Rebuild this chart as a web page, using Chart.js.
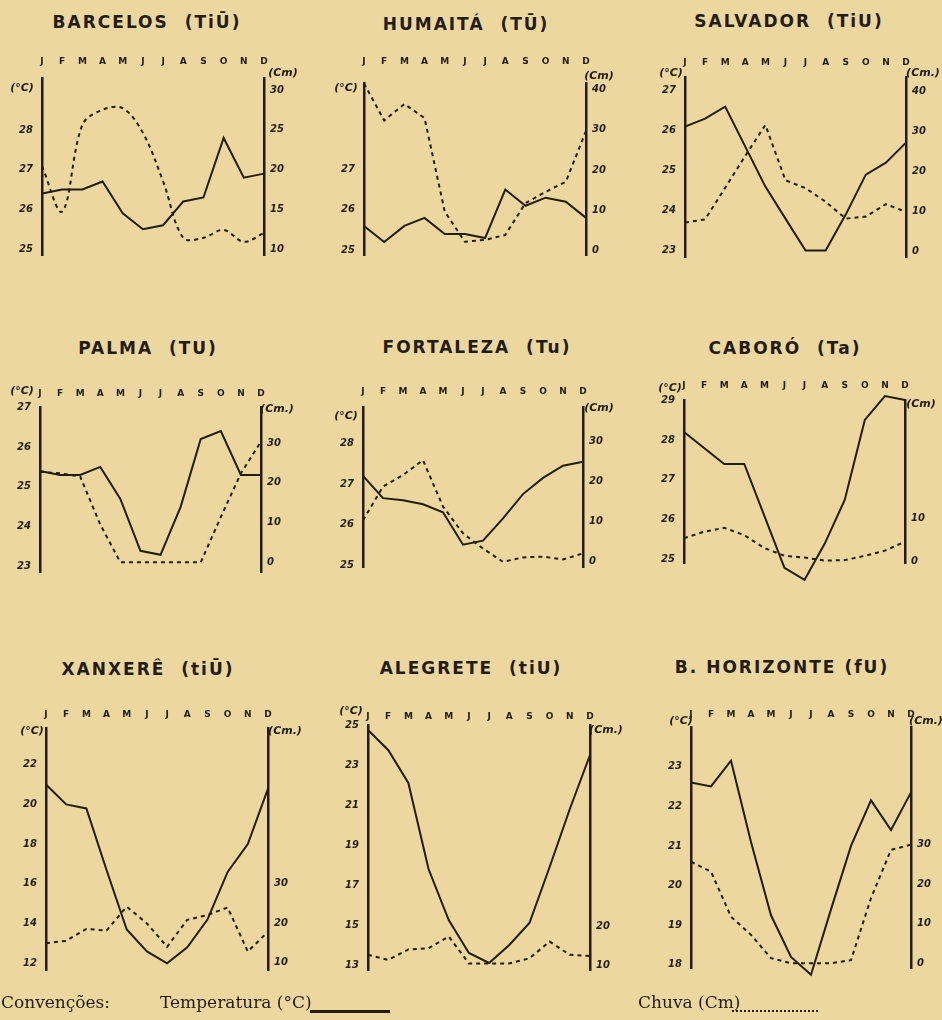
<!DOCTYPE html>
<html>
<head>
<meta charset="utf-8">
<script src="https://cdn.jsdelivr.net/npm/chart.js@4/dist/chart.umd.min.js"></script>
<style>
  body { margin: 0; width: 942px; height: 1020px; background: #ecd79e; overflow: hidden; position: relative;
         font-family: "DejaVu Sans", sans-serif; color: #231c12; }
  canvas { position: absolute; }
  .title { position: absolute; transform: translate(-50%, -50%); font-weight: bold; font-size: 17px;
           letter-spacing: 2px; white-space: pre; }
  .unit { position: absolute; transform: translate(-50%, -50%); font-style: italic; font-weight: bold;
          font-size: 11px; white-space: nowrap; }
  .legend { position: absolute; top: 992px; font-family: "DejaVu Serif", serif; font-size: 17px; white-space: nowrap; }
</style>
</head>
<body>
<script>
// months along the top of every panel
const months = ['J', 'F', 'M', 'A', 'M', 'J', 'J', 'A', 'S', 'O', 'N', 'D'];

// temperature (°C) and rain (cm) per station
const tempBarcelos = [26.4, 26.5, 26.5, 26.7, 25.9, 25.5, 25.6, 26.2, 26.3, 27.8, 26.8, 26.9];
const rainBarcelos = [20.4, 14.7, 25.6, 27.5, 27.7, 24.6, 18.5, 11.4, 11.4, 12.4, 10.9, 12.0];
const tempHumaita = [25.6, 25.2, 25.6, 25.8, 25.4, 25.4, 25.3, 26.5, 26.1, 26.3, 26.2, 25.8];
const rainHumaita = [41.5, 32.3, 36.4, 32.9, 9.7, 2.2, 2.7, 3.9, 11.8, 14.6, 17.1, 29.7];
const tempSalvador = [26.1, 26.3, 26.6, 25.6, 24.6, 23.8, 23.0, 23.0, 23.9, 24.9, 25.2, 25.7];
const rainSalvador = [7.3, 8.1, 16.0, 24.0, 31.7, 17.9, 15.9, 12.5, 8.3, 8.8, 11.9, 10.0];
const tempPalma = [25.4, 25.3, 25.3, 25.5, 24.7, 23.4, 23.3, 24.5, 26.2, 26.4, 25.3, 25.3];
const rainPalma = [22.8, 22.4, 21.6, 9.5, 0, 0, 0, 0, 0, 11.4, 22.4, 30.4];
const tempFortaleza = [27.2, 26.65, 26.6, 26.5, 26.3, 25.5, 25.6, 26.15, 26.75, 27.15, 27.45, 27.55];
const rainFortaleza = [10.4, 18.8, 21.7, 25.4, 13.8, 7.1, 3.3, 0, 1.1, 1.3, 0.6, 2.1];
const tempCaboro = [28.2, 27.8, 27.4, 27.4, 26.1, 24.8, 24.5, 25.4, 26.5, 28.5, 29.1, 29.0];
const rainCaboro = [5.3, 6.8, 7.7, 6.0, 3.0, 1.2, 0.8, 0.1, 0.2, 1.2, 2.4, 4.5];
const tempXanxere = [21.0, 20.0, 19.8, 16.7, 13.7, 12.6, 12.0, 12.8, 14.2, 16.6, 18.0, 20.8];
const rainXanxere = [14.9, 15.5, 18.5, 18.1, 24.1, 19.9, 14.0, 20.8, 22.0, 23.9, 12.8, 17.8];
const tempAlegrete = [24.75, 23.75, 22.1, 17.8, 15.25, 13.6, 13.1, 14.0, 15.1, 17.9, 20.8, 23.5];
const rainAlegrete = [12.6, 11.3, 14.0, 14.3, 17.3, 10.4, 10.4, 10.4, 11.7, 16.0, 12.6, 12.3];
const tempHorizonte = [22.6, 22.5, 23.15, 21.1, 19.25, 18.2, 17.75, 19.4, 21.0, 22.15, 21.4, 22.35];
const rainHorizonte = [25.7, 23.2, 11.8, 7.2, 1.3, 0, 0, 0, 0.8, 16.5, 28.7, 30.0];

// tick labels of the two vertical axes
const tempTicksBarcelos = [25, 26, 27, 28];
const rainTicksBarcelos = [10, 15, 20, 25, 30];
const tempTicksHumaita = [25, 26, 27];
const rainTicksHumaita = [0, 10, 20, 30, 40];
const tempTicksSalvador = [23, 24, 25, 26, 27];
const rainTicksSalvador = [0, 10, 20, 30, 40];
const tempTicksPalma = [23, 24, 25, 26, 27];
const rainTicksPalma = [0, 10, 20, 30];
const tempTicksFortaleza = [25, 26, 27, 28];
const rainTicksFortaleza = [0, 10, 20, 30];
const tempTicksCaboro = [25, 26, 27, 28, 29];
const rainTicksCaboro = [0, 10];
const tempTicksXanxere = [12, 14, 16, 18, 20, 22];
const rainTicksXanxere = [10, 20, 30];
const tempTicksAlegrete = [13, 15, 17, 19, 21, 23, 25];
const rainTicksAlegrete = [10, 20];
const tempTicksHorizonte = [18, 19, 20, 21, 22, 23];
const rainTicksHorizonte = [0, 10, 20, 30];

const ink = '#231c12';
Chart.defaults.font.family = "'DejaVu Sans', sans-serif";

const stations = [
    { title: 'BARCELOS  (TiŪ)', temp: tempBarcelos, rain: rainBarcelos, tT: tempTicksBarcelos, rT: rainTicksBarcelos, cm: '(Cm)' },
    { title: 'HUMAITÁ  (TŪ)', temp: tempHumaita, rain: rainHumaita, tT: tempTicksHumaita, rT: rainTicksHumaita, cm: '(Cm)' },
    { title: 'SALVADOR  (TiU)', temp: tempSalvador, rain: rainSalvador, tT: tempTicksSalvador, rT: rainTicksSalvador, cm: '(Cm.)' },
    { title: 'PALMA  (TU)', temp: tempPalma, rain: rainPalma, tT: tempTicksPalma, rT: rainTicksPalma, cm: '(Cm.)' },
    { title: 'FORTALEZA  (Tu)', temp: tempFortaleza, rain: rainFortaleza, tT: tempTicksFortaleza, rT: rainTicksFortaleza, cm: '(Cm)' },
    { title: 'CABORÓ  (Ta)', temp: tempCaboro, rain: rainCaboro, tT: tempTicksCaboro, rT: rainTicksCaboro, cm: '(Cm)' },
    { title: 'XANXERÊ  (tiŪ)', temp: tempXanxere, rain: rainXanxere, tT: tempTicksXanxere, rT: rainTicksXanxere, cm: '(Cm.)' },
    { title: 'ALEGRETE  (tiU)', temp: tempAlegrete, rain: rainAlegrete, tT: tempTicksAlegrete, rT: rainTicksAlegrete, cm: '(Cm.)' },
    { title: 'B. HORIZONTE (fU)', temp: tempHorizonte, rain: rainHorizonte, tT: tempTicksHorizonte, rT: rainTicksHorizonte, cm: '(Cm.)' }
];

// where each panel sits on the page and the range of its axes
const panels = [
    { axL: 42, axR: 264, axT: 78, axB: 255, monY: 62, tx: 147, ty: 22, tMin: 24.85, tMax: 29.31, rMin: 9.24, rMax: 31.5, cx: 22, cy: 87, kx: 283, ky: 72, smooth: 0.35 },
    { axL: 364, axR: 586, axT: 83, axB: 255, monY: 62, tx: 466, ty: 24, tMin: 24.88, tMax: 29.14, rMin: -1.07, rMax: 41.6, cx: 346, cy: 87, kx: 599, ky: 75 },
    { axL: 685, axR: 906, axT: 77, axB: 257, monY: 63, tx: 789, ty: 21, tMin: 22.84, tMax: 27.34, rMin: -1.3, rMax: 43.7, cx: 671, cy: 72, kx: 923, ky: 72 },
    { axL: 40, axR: 261, axT: 407, axB: 572, monY: 394, tx: 148, ty: 348, tMin: 22.87, tMax: 27, rMin: -2.44, rMax: 39.1, cx: 22, cy: 390, kx: 277, ky: 408 },
    { axL: 363, axR: 583, axT: 407, axB: 567, monY: 392, tx: 477, ty: 347, tMin: 24.95, tMax: 28.9, rMin: -1.3, rMax: 38.7, cx: 346, cy: 415, kx: 599, ky: 407 },
    { axL: 684, axR: 905, axT: 400, axB: 563, monY: 386, tx: 785, ty: 348, tMin: 24.92, tMax: 29, rMin: -0.47, rMax: 37.4, cx: 670, cy: 387, kx: 921, ky: 403 },
    { axL: 46, axR: 268, axT: 728, axB: 970, monY: 715, tx: 148, ty: 669, tMin: 11.66, tMax: 23.85, rMin: 8.16, rMax: 69.1, cx: 32, cy: 730, kx: 285, ky: 730 },
    { axL: 368, axR: 590, axT: 725, axB: 970, monY: 717, tx: 471, ty: 668, tMin: 12.75, tMax: 25, rMin: 8.72, rMax: 71.5, cx: 351, cy: 710, kx: 606, ky: 729 },
    { axL: 691, axR: 911, axT: 727, axB: 968, monY: 715, tx: 782, ty: 667, tMin: 17.92, tMax: 24.0, rMin: -1.19, rMax: 59.8, cx: 681, cy: 720, kx: 926, ky: 720 }
];

function addText(cls, text, x, y) {
    const el = document.createElement('div');
    el.className = cls;
    el.textContent = text;
    el.style.left = x + 'px';
    el.style.top = y + 'px';
    document.body.appendChild(el);
}

function drawPanel(st, p) {
    const padL = 45, padR = 45, padB = 25;
    const top = p.monY - 14;
    const canvas = document.createElement('canvas');
    canvas.width = p.axR - p.axL + padL + padR;
    canvas.height = p.axB - top + padB;
    canvas.style.left = (p.axL - padL) + 'px';
    canvas.style.top = top + 'px';
    document.body.appendChild(canvas);

    const tickFont = { size: 10, style: 'italic', weight: 'bold' };
    new Chart(canvas.getContext('2d'), {
        type: 'line',
        data: {
            labels: months,
            datasets: [{
                label: 'Temperatura (°C)',
                data: st.temp,
                yAxisID: 'yT',
                borderColor: ink,
                borderWidth: 2,
                pointRadius: 0,
                tension: 0,
                clip: false
            }, {
                label: 'Chuva (Cm)',
                data: st.rain,
                yAxisID: 'yR',
                borderColor: ink,
                borderWidth: 2,
                borderDash: [4, 4],
                pointRadius: 0,
                tension: p.smooth || 0,
                clip: false
            }]
        },
        options: {
            responsive: false,
            animation: false,
            devicePixelRatio: 1,
            layout: { padding: { top: 0, left: 0, right: 0, bottom: padB } },
            plugins: { legend: { display: false }, tooltip: { enabled: false } },
            scales: {
                x: {
                    position: 'top',
                    offset: false,
                    grid: { display: false, drawTicks: false },
                    border: { display: false },
                    ticks: { autoSkip: false, maxRotation: 0, padding: p.axT - p.monY - 5, color: ink, font: { size: 9, weight: 'bold' } },
                    afterFit: s => { s.height = p.axT - top; }
                },
                yT: {
                    position: 'left',
                    min: p.tMin,
                    max: p.tMax,
                    grid: { display: false, drawTicks: false },
                    border: { display: true, color: ink, width: 2.5 },
                    afterBuildTicks: s => { s.ticks = st.tT.map(v => ({ value: v })); },
                    ticks: { padding: 9, color: ink, font: tickFont },
                    afterFit: s => { s.width = padL; }
                },
                yR: {
                    position: 'right',
                    min: p.rMin,
                    max: p.rMax,
                    grid: { display: false, drawTicks: false },
                    border: { display: true, color: ink, width: 2.5 },
                    afterBuildTicks: s => { s.ticks = st.rT.map(v => ({ value: v })); },
                    ticks: { padding: 6, color: ink, font: tickFont },
                    afterFit: s => { s.width = padR; }
                }
            }
        }
    });

    addText('title', st.title, p.tx, p.ty);
    addText('unit', '(°C)', p.cx, p.cy);
    addText('unit', st.cm, p.kx, p.ky);
}

stations.forEach((st, i) => drawPanel(st, panels[i]));
</script>

<!-- Convenções -->
<div class="legend" style="left:1px;">Convenções:</div>
<div class="legend" style="left:160px;">Temperatura (°C)</div>
<div style="position:absolute; left:310px; top:1010px; width:80px; height:3px; background:#231c12;"></div>
<div class="legend" style="left:638px;">Chuva (Cm)</div>
<div style="position:absolute; left:732px; top:1010px; width:86px; border-bottom:2px dotted #231c12;"></div>
</body>
</html>
